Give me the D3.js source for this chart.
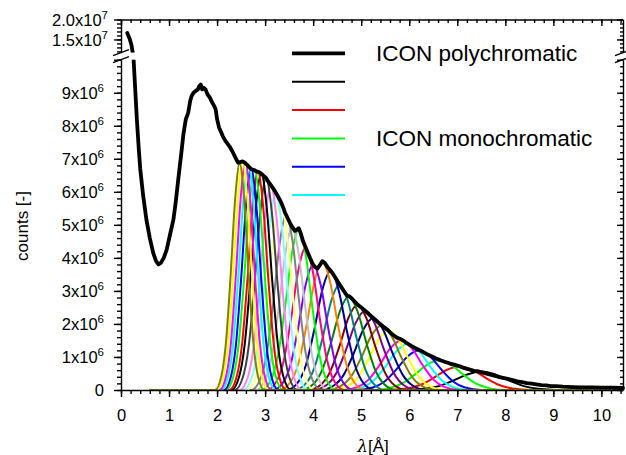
<!DOCTYPE html>
<html>
<head>
<meta charset="utf-8">
<script src="https://cdn.jsdelivr.net/npm/d3@7"></script>
<style>
body { margin: 0; background: #fff; }
text { font-family: Arial, "Liberation Sans", sans-serif; fill: #000; }
</style>
</head>
<body>
<script>
// polychromatic spectrum (lambda in Angstrom, counts)
var polyLambda = [0.13,0.18,0.22,0.26,0.30,0.33,0.37,0.40,0.46,0.53,0.60,0.67,0.73,0.78,0.83,0.89,0.95,1.02,1.09,1.14,
  1.19,1.25,1.30,1.35,1.40,1.44,1.47,1.51,1.55,1.60,1.63,1.66,1.69,1.72,1.76,1.80,1.85,1.90,1.94,1.97,
  2.00,2.04,2.08,2.12,2.17,2.22,2.27,2.32,2.36,2.40,2.44,2.48,2.53,2.58,2.62,2.67,2.72,2.77,2.82,2.87,
  2.92,2.97,3.02,3.07,3.12,3.17,3.22,3.27,3.32,3.37,3.42,3.47,3.52,3.57,3.62,3.66,3.70,3.74,3.79,3.84,
  3.89,3.94,3.99,4.04,4.09,4.14,4.19,4.24,4.30,4.36,4.42,4.48,4.54,4.60,4.66,4.71,4.75,4.80,4.86,4.93,
  5.00,5.08,5.16,5.25,5.35,5.45,5.55,5.65,5.75,5.85,5.95,6.05,6.15,6.25,6.35,6.45,6.55,6.65,6.75,6.85,
  6.95,7.05,7.15,7.25,7.35,7.45,7.55,7.65,7.75,7.85,7.95,8.05,8.15,8.25,8.35,8.45,8.55,8.65,8.75,8.85,
  8.95,9.05,9.2,9.4,9.6,9.8,10.0,10.2,10.45];
var polyCounts = [16.6e6,15.2e6,13.5e6,10.5e6,9.0e6,8.2e6,7.3e6,6.7e6,5.9e6,5.15e6,4.6e6,4.15e6,3.9e6,3.8e6,3.85e6,4.0e6,4.24e6,4.7e6,5.15e6,5.7e6,
  6.35e6,7.1e6,7.75e6,8.2e6,8.4e6,8.75e6,8.9e6,9.0e6,9.05e6,9.1e6,9.2e6,9.25e6,9.1e6,9.15e6,9.1e6,8.95e6,8.85e6,8.7e6,8.6e6,8.5e6,
  8.2e6,7.95e6,7.82e6,7.68e6,7.55e6,7.45e6,7.35e6,7.22e6,7.1e6,6.98e6,6.88e6,6.9e6,6.92e6,6.88e6,6.82e6,6.75e6,6.68e6,6.66e6,6.62e6,6.6e6,
  6.55e6,6.48e6,6.42e6,6.3e6,6.2e6,6.1e6,5.98e6,5.85e6,5.72e6,5.55e6,5.35e6,5.2e6,5.05e6,4.92e6,4.82e6,4.85e6,4.9e6,4.75e6,4.5e6,4.33e6,
  4.15e6,3.98e6,3.82e6,3.72e6,3.68e6,3.78e6,3.9e6,3.85e6,3.72e6,3.62e6,3.5e6,3.36e6,3.22e6,3.08e6,2.95e6,2.85e6,2.84e6,2.78e6,2.68e6,2.58e6,
  2.5e6,2.4e6,2.3e6,2.18e6,2.05e6,1.93e6,1.82e6,1.68e6,1.58e6,1.52e6,1.42e6,1.33e6,1.25e6,1.18e6,1.1e6,1.03e6,0.96e6,0.9e6,0.85e6,0.8e6,
  0.76e6,0.72e6,0.66e6,0.62e6,0.58e6,0.56e6,0.52e6,0.48e6,0.44e6,0.40e6,0.37e6,0.34e6,0.30e6,0.26e6,0.24e6,0.21e6,0.19e6,0.17e6,0.15e6,0.14e6,
  0.12e6,0.12e6,0.10e6,0.09e6,0.08e6,0.08e6,0.07e6,0.07e6,0.06e6];

// monochromatic peaks: centre, peak counts, half width at half maximum
var monoCenter = [2.47,2.53,2.59,2.65,2.71,2.78,2.85,2.92,3.02,3.12,3.22,3.32,3.44,3.56,3.70,3.84,
  4.00,4.19,4.36,4.55,4.74,4.92,5.08,5.25,5.42,5.57,5.83,5.97,6.20,6.62,7.05,7.50];
var monoPeak = [6.85e6,6.9e6,6.88e6,6.8e6,6.7e6,6.64e6,6.6e6,6.55e6,6.4e6,6.18e6,5.96e6,5.7e6,5.3e6,4.9e6,4.88e6,4.3e6,
  3.8e6,3.88e6,3.6e6,3.2e6,2.83e6,2.58e6,2.4e6,2.18e6,1.95e6,1.8e6,1.5e6,1.4e6,1.2e6,0.9e6,0.72e6,0.56e6];
var monoHwhm = [0.19,0.20,0.20,0.21,0.21,0.22,0.22,0.23,0.24,0.24,0.25,0.26,0.27,0.28,0.29,0.30,
  0.31,0.33,0.34,0.35,0.37,0.38,0.40,0.41,0.42,0.43,0.45,0.47,0.48,0.52,0.55,0.59];
var monoColor = ["#808000","#ffff00","#ff00ff","#00ffff","#0000ff","#00ff00","#ff0000","#000000",
  "#404040","#ff80ff","#80ffff","#ffff80","#808080","#c0c0c0","#00ff00","#ff0080",
  "#8000ff","#ff8000","#0000a0","#008080","#008000","#800000","#800080","#000080",
  "#808000","#ffff00","#ff00ff","#00ffff","#0000ff","#00ff00","#ff0000","#000000"];
// bell profile: offset in half widths, fraction of peak
var shapeDx = [-2.7,-2,-1.5,-1,-0.5,0,0.5,1,1.5,2,2.7];
var shapeFrac = [0,0.0625,0.21,0.5,0.84,1,0.84,0.5,0.21,0.0625,0];
var monoStart = 0.6, monoEnd = 10.45;

var xTicks = [0,1,2,3,4,5,6,7,8,9,10];
var yTicksLow = [0,1e6,2e6,3e6,4e6,5e6,6e6,7e6,8e6,9e6,1e7];
var yLabelsLow = ["0","1x10","2x10","3x10","4x10","5x10","6x10","7x10","8x10","9x10",""];
var yTicksHigh = [1.5e7,2e7];
var yLabelsHigh = ["1.5x10","2.0x10"];
var legendLabels = ["ICON polychromatic","ICON monochromatic"];

var W = 626, H = 455;
var svg = d3.select("body").append("svg").attr("width", W).attr("height", H);

var x = d3.scaleLinear().domain([0, 10.45]).range([121, 623]);
var yLow = d3.scaleLinear().domain([0, 1e7]).range([390, 59.7]);
var yHigh = d3.scaleLinear().domain([1.17e7, 2e7]).range([52.6, 19.5]);
function y(v) {
  if (v <= 1e7) return yLow(v);
  if (v >= 1.17e7) return yHigh(v);
  return yLow(1e7) + (v - 1e7) / 0.17e7 * (yHigh(1.17e7) - yLow(1e7));
}

var line = d3.line().x(function(d){ return x(d[0]); }).y(function(d){ return y(d[1]); })
  .curve(d3.curveMonotoneX);

// monochromatic curves, right-most first
var monoData = monoCenter.map(function(c, i) {
  var pts = [[monoStart, 0]];
  shapeDx.forEach(function(dx, k){ pts.push([c + dx * monoHwhm[i], monoPeak[i] * shapeFrac[k]]); });
  pts.push([monoEnd, 0]);
  return {pts: pts, color: monoColor[i]};
}).reverse();

svg.append("g").selectAll("path").data(monoData).enter().append("path")
  .attr("d", function(d){ return line(d.pts); })
  .attr("fill", "none").attr("stroke", function(d){ return d.color; })
  .attr("stroke-width", 2);

var polyPts = polyLambda.map(function(l, i){ return [l, polyCounts[i]]; });
svg.append("path").attr("d", d3.line().x(function(d){ return x(d[0]); }).y(function(d){ return y(d[1]); })(polyPts))
  .attr("fill", "none").attr("stroke", "#000").attr("stroke-width", 3.8)
  .attr("stroke-linejoin", "round").attr("stroke-linecap", "round");

// axis break band
svg.append("rect").attr("x", 122).attr("y", yHigh(1.17e7)).attr("width", 500)
  .attr("height", yLow(1e7) - yHigh(1.17e7)).attr("fill", "#fff");

function range(a, b, s) { var r = []; for (var v = a; v <= b + s / 2; v += s) r.push(+v.toFixed(6)); return r; }
function styleAxis(g) {
  g.selectAll("path,line").attr("stroke", "#000").attr("stroke-width", 1.4);
  g.selectAll("text").attr("font-size", 16.5).attr("fill", "#000")
    .attr("font-family", "Arial, 'Liberation Sans', sans-serif");
}

// bottom axis
var gB = svg.append("g").attr("transform", "translate(0,390)")
  .call(d3.axisBottom(x).tickValues(xTicks).tickSize(7).tickSizeOuter(0).tickPadding(12));
svg.append("g").attr("transform", "translate(0,390)")
  .call(d3.axisBottom(x).tickValues(range(0, 10.4, 0.2)).tickSize(4).tickFormat("")).call(function(g){ g.select(".domain").remove(); styleAxis(g); });
styleAxis(gB);

// top axis (ticks inside)
var gT = svg.append("g").attr("transform", "translate(0,19.5)")
  .call(d3.axisTop(x).tickValues(xTicks).tickSize(-6.5).tickSizeOuter(0).tickFormat(""));
svg.append("g").attr("transform", "translate(0,19.5)")
  .call(d3.axisTop(x).tickValues(range(0, 10.4, 0.2)).tickSize(-3.5).tickFormat("")).call(function(g){ g.select(".domain").remove(); styleAxis(g); });
styleAxis(gT);

// left axis, two segments
function supLabels(g, labels, exp) {
  g.selectAll(".tick text").each(function(d, i) {
    var t = d3.select(this).text(null);
    t.append("tspan").text(labels[i]);
    if (labels[i] !== "0" && labels[i] !== "") t.append("tspan").attr("dy", -7).attr("font-size", 11.5).text(exp);
  });
}
var gL = svg.append("g").attr("transform", "translate(121,0)")
  .call(d3.axisLeft(yLow).tickValues(yTicksLow).tickSize(7).tickSizeOuter(0).tickPadding(10).tickFormat(""));
svg.append("g").attr("transform", "translate(121,0)")
  .call(d3.axisLeft(yLow).tickValues(range(0, 1e7, 2e5)).tickSize(4).tickFormat("")).call(function(g){ g.select(".domain").remove(); styleAxis(g); });
styleAxis(gL);
supLabels(gL, yLabelsLow, "6");
gL.selectAll(".tick text").attr("dy", "0.36em");

var gLH = svg.append("g").attr("transform", "translate(121,0)")
  .call(d3.axisLeft(yHigh).tickValues(yTicksHigh).tickSize(7).tickSizeOuter(0).tickPadding(6).tickFormat(""));
svg.append("g").attr("transform", "translate(121,0)")
  .call(d3.axisLeft(yHigh).tickValues(range(1.2e7, 2e7, 1e6)).tickSize(4).tickFormat("")).call(function(g){ g.select(".domain").remove(); styleAxis(g); });
styleAxis(gLH);
supLabels(gLH, yLabelsHigh, "7");
gLH.selectAll(".tick text").attr("dy", "0.36em");

// right axis, two segments (ticks inside)
[[yLow, yTicksLow, range(0, 1e7, 2e5)], [yHigh, yTicksHigh, range(1.2e7, 2e7, 1e6)]].forEach(function(a) {
  var g = svg.append("g").attr("transform", "translate(623,0)")
    .call(d3.axisRight(a[0]).tickValues(a[1]).tickSize(-6).tickSizeOuter(0).tickFormat(""));
  styleAxis(g);
  svg.append("g").attr("transform", "translate(623,0)")
    .call(d3.axisRight(a[0]).tickValues(a[2]).tickSize(-3).tickFormat("")).call(function(g){ g.select(".domain").remove(); styleAxis(g); });
});

// break marks
[121, 623].forEach(function(ax) {
  [yHigh(1.17e7), yLow(1e7)].forEach(function(yy) {
    svg.append("line").attr("x1", ax - 8).attr("y1", yy + 3).attr("x2", ax + 8).attr("y2", yy - 3)
      .attr("stroke", "#000").attr("stroke-width", 1.4);
  });
});

// axis titles
svg.append("text").attr("transform", "translate(28,226) rotate(-90)").attr("text-anchor", "middle")
  .attr("font-size", 17).text("counts [-]");
var xt = svg.append("text").attr("x", 373).attr("y", 452).attr("text-anchor", "middle").attr("font-size", 17);
xt.append("tspan").attr("font-style", "italic").attr("font-family", "'DejaVu Serif', serif").text("λ");
xt.append("tspan").text("[Å]");

// legend
var legend = svg.append("g");
legend.append("line").attr("x1", 292).attr("x2", 345).attr("y1", 53.3).attr("y2", 53.3)
  .attr("stroke", "#000").attr("stroke-width", 3.8);
var legendMono = [monoColor[31], monoColor[30], monoColor[29], monoColor[28], monoColor[27]];
legendMono.forEach(function(c, i) {
  var yy = 81.7 + i * 28.35;
  legend.append("line").attr("x1", 292).attr("x2", 345).attr("y1", yy).attr("y2", yy)
    .attr("stroke", c).attr("stroke-width", 2);
});
legend.append("text").attr("x", 376).attr("y", 61.3).attr("font-size", 22.5).text(legendLabels[0]);
legend.append("text").attr("x", 376).attr("y", 146.3).attr("font-size", 22.5).text(legendLabels[1]);
</script>
</body>
</html>
